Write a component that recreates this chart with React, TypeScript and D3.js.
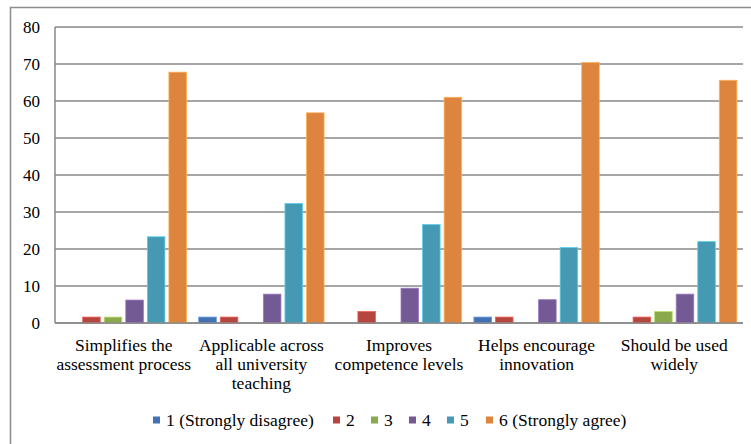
import React from "react";
import * as d3 from "d3";

// categories (line breaks as they appear under the axis)
const categories = [
  "Simplifies the\nassessment process",
  "Applicable across\nall university\nteaching",
  "Improves\ncompetence levels",
  "Helps encourage\ninnovation",
  "Should be used\nwidely",
];

const seriesNames = ["1 (Strongly disagree)", "2", "3", "4", "5", "6 (Strongly agree)"];
const seriesColors = ["#4472b0", "#b5453f", "#8aa84c", "#735a94", "#4599b3", "#dd843f"];

// values per series, one per category
const s1 = [0, 1.6, 0, 1.6, 0];
const s2 = [1.6, 1.6, 3.1, 1.6, 1.6];
const s3 = [1.6, 0, 0, 0, 3.1];
const s4 = [6.2, 7.8, 9.4, 6.3, 7.8];
const s5 = [23.3, 32.3, 26.6, 20.4, 22.0];
const s6 = [67.8, 56.8, 61.0, 70.4, 65.6];
const seriesValues = [s1, s2, s3, s4, s5, s6];

const yTicks = [0, 10, 20, 30, 40, 50, 60, 70, 80];

const W = 751;
const H = 444;
const left = 55;
const right = 743;
const top = 27;
const bottom = 323;
const font = "Liberation Serif, Times New Roman, DejaVu Serif, serif";

const App = () => {
  const y = d3.scaleLinear().domain([0, 80]).range([bottom, top]);
  const x0 = d3
    .scaleBand<number>()
    .domain(d3.range(categories.length))
    .range([left, right])
    .paddingInner(0.06)
    .paddingOuter(0.03);
  const x1 = d3
    .scaleBand<number>()
    .domain(d3.range(seriesNames.length))
    .range([0, x0.bandwidth()]);
  const xc = d3.scaleBand<number>().domain(d3.range(categories.length)).range([left, right]);

  // legend marker x positions
  const legendX = [153, 333, 371, 409, 447, 486];

  return (
    <svg
      width={W}
      height={H}
      style={{ position: "absolute", left: 0, top: 0, background: "#fff", fontFamily: font }}
    >
      {/* outer frame */}
      <rect x={10.5} y={7.5} width={800} height={500} fill="none" stroke="#8c8c8c" strokeWidth={1.5} />

      {/* gridlines */}
      {yTicks.map((t) => (
        <line key={t} x1={left} x2={right} y1={y(t)} y2={y(t)} stroke="#888" strokeWidth={1.5} />
      ))}
      <line x1={left} x2={left} y1={top} y2={bottom} stroke="#888" strokeWidth={1.5} />

      {/* y tick labels */}
      {yTicks.map((t) => (
        <text key={t} x={40} y={y(t)} dy="0.35em" textAnchor="end" fontSize={17} fill="#000">
          {t}
        </text>
      ))}

      {/* bars */}
      {categories.map((c, ci) => (
        <g key={c} transform={`translate(${x0(ci)},0)`}>
          {seriesValues.map((vals, si) =>
            vals[ci] > 0 ? (
              <rect
                key={si}
                x={(x1(si) as number) + 2}
                y={y(vals[ci])}
                width={x1.bandwidth() - 4}
                height={bottom - y(vals[ci])}
                fill={seriesColors[si]}
                stroke={d3.color(seriesColors[si])!.brighter(0.8).formatHex()}
                strokeWidth={0.8}
              />
            ) : null
          )}
        </g>
      ))}

      {/* x axis line */}
      <line x1={left} x2={right} y1={bottom} y2={bottom} stroke="#888" strokeWidth={1.5} />

      {/* category labels */}
      {categories.map((c, ci) => {
        const cx = (xc(ci) as number) + xc.bandwidth() / 2;
        return (
          <text key={c} x={cx} y={351} textAnchor="middle" fontSize={17.5} fill="#000">
            {c.split("\n").map((line, li) => (
              <tspan key={li} x={cx} dy={li === 0 ? 0 : 19}>
                {line}
              </tspan>
            ))}
          </text>
        );
      })}

      {/* legend */}
      {seriesNames.map((n, i) => (
        <g key={n} transform={`translate(${legendX[i]},420)`}>
          <rect x={0} y={-3.5} width={7} height={7} fill={seriesColors[i]} />
          <text x={13} y={0} dy="0.35em" fontSize={17.5} fill="#000">
            {n}
          </text>
        </g>
      ))}
    </svg>
  );
};

export default App;
